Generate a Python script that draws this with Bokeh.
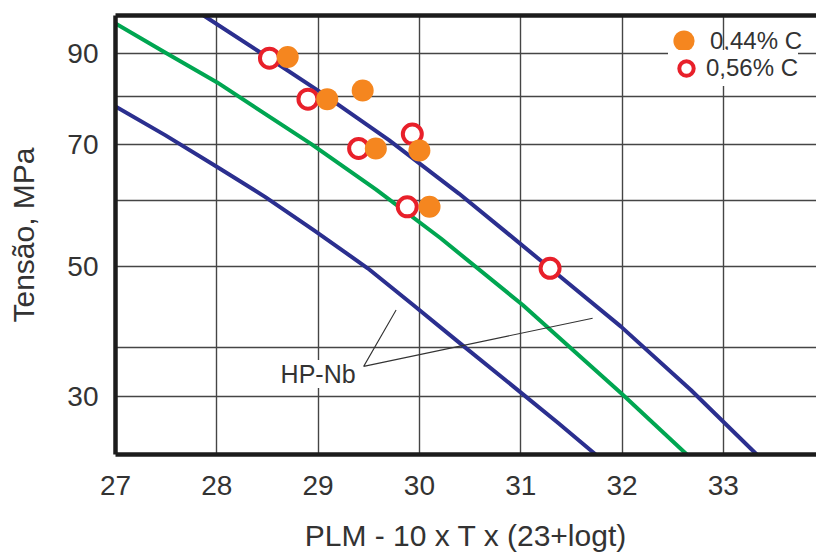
from bokeh.plotting import figure
from bokeh.models import Range1d, FixedTicker, LinearAxis, Legend, LegendItem, Label
from bokeh.embed import file_html
from bokeh.resources import INLINE

# ---- data ----
x_ticks = [27, 28, 29, 30, 31, 32, 33]
y_grid = [35, 40, 50, 60, 70, 80, 90]
y_tick_values = [35, 50, 70, 90]
y_tick_labels = ["30", "50", "70", "90"]

c044_x = [28.70, 29.09, 29.44, 29.57, 30.00, 30.10]
c044_y = [89.2, 79.4, 81.3, 69.3, 68.9, 59.0]
c056_x = [28.52, 28.90, 29.40, 29.93, 29.88, 31.29]
c056_y = [88.9, 79.4, 69.3, 72.1, 59.0, 49.8]

upper_x = [27.87, 28.43, 29.00, 29.70, 30.39, 30.85, 31.29, 31.99, 32.68, 33.33]
upper_y = [100.0, 90.3, 81.3, 70.9, 61.2, 55.1, 49.8, 42.4, 35.6, 29.8]
mid_x = [27.00, 27.49, 28.00, 28.93, 29.57, 30.21, 31.02, 31.54, 32.00, 32.64]
mid_y = [97.8, 90.3, 83.2, 70.2, 61.9, 54.1, 45.0, 39.5, 35.2, 29.8]
lower_x = [27.00, 27.49, 28.00, 28.48, 28.96, 29.49, 29.93, 30.39, 31.02, 31.37, 31.74]
lower_y = [77.8, 71.9, 65.9, 60.6, 55.3, 49.8, 45.1, 40.6, 35.2, 32.5, 29.8]

leader_x = [29.77, 29.45, 31.71]
leader_y = [44.4, 38.0, 43.4]
hp_x, hp_y, hp_text = 29.0, 37.2, "HP-Nb"

series_labels = ["0,44% C", "0,56% C"]
x_title = "PLM - 10 x T x (23+logt)"
y_title = "Tensão, MPa"

# ---- style ----
FONT = "Liberation Sans"
TXT = "#333333"
NAVY = "#2b2f8f"
GREEN = "#00a651"
ORANGE = "#f5861f"
RED = "#e8202a"
GRID = "#454545"
BORDER = "#1c1c1c"

p = figure(width=816, height=554, x_range=Range1d(27, 33.92), y_range=Range1d(29.8, 100.0),
           y_axis_type="log", output_backend="svg", toolbar_location=None,
           min_border_left=115, min_border_right=0, min_border_top=15, min_border_bottom=100)
p.outline_line_color = None
p.background_fill_color = "white"
p.border_fill_color = "white"

# grid
p.xgrid.ticker = FixedTicker(ticks=x_ticks)
p.ygrid.ticker = FixedTicker(ticks=y_grid)
for g in (p.xgrid, p.ygrid):
    g.grid_line_color = GRID
    g.grid_line_width = 1.4

# axes
for ax in (p.xaxis, p.yaxis):
    ax.axis_line_color = BORDER
    ax.axis_line_width = 4.5
    ax.major_tick_out = 0
    ax.major_tick_in = 0
    ax.minor_tick_out = 0
    ax.minor_tick_in = 0
    ax.major_label_text_font = FONT
    ax.major_label_text_font_size = "28px"
    ax.major_label_text_color = TXT
    ax.axis_label_text_font = FONT
    ax.axis_label_text_font_size = "30px"
    ax.axis_label_text_font_style = "normal"
    ax.axis_label_text_color = TXT

p.xaxis.ticker = FixedTicker(ticks=x_ticks)
p.xaxis.axis_label = x_title
p.xaxis.major_label_standoff = 21
p.xaxis.axis_label_standoff = 21

p.yaxis.ticker = FixedTicker(ticks=y_tick_values)
overrides = {}
for v, lab in zip(y_tick_values, y_tick_labels):
    overrides[v] = lab
    overrides[str(v)] = lab
p.yaxis.major_label_overrides = overrides
p.yaxis.axis_label = y_title
p.yaxis.major_label_standoff = 17
p.yaxis.axis_label_standoff = 24

top = LinearAxis(ticker=FixedTicker(ticks=[]), axis_line_color=BORDER, axis_line_width=4.5,
                 major_tick_out=0, major_tick_in=0, minor_tick_out=0, minor_tick_in=0,
                 major_label_standoff=0, major_label_text_font_size="0px")
p.add_layout(top, "above")

# curves
p.line(lower_x, lower_y, line_color=NAVY, line_width=4, line_join="round")
p.line(mid_x, mid_y, line_color=GREEN, line_width=4, line_join="round")
p.line(upper_x, upper_y, line_color=NAVY, line_width=4, line_join="round")

# leader lines + label
p.line(leader_x, leader_y, line_color="#333333", line_width=1.1)
p.add_layout(Label(x=hp_x, y=hp_y, text=hp_text, text_align="center", text_baseline="middle",
                   text_font=FONT, text_font_size="25px", text_color=TXT,
                   background_fill_color="white"))

# points
r056 = p.scatter(c056_x, c056_y, size=19, marker="circle", fill_color="white",
                 line_color=RED, line_width=4)
r044 = p.scatter(c044_x, c044_y, size=22, marker="circle", fill_color=ORANGE, line_color=None)

# legends (two, so each marker can have its own size)
common = dict(border_line_color=None, padding=0, margin=0, spacing=0,
              label_text_font=FONT, label_text_font_size="24px", label_text_color=TXT)
legA = Legend(items=[LegendItem(label=series_labels[0], renderers=[r044])],
              location=(542, 387), glyph_width=53, glyph_height=53, label_standoff=0,
              background_fill_alpha=0, **common)
legB = Legend(items=[LegendItem(label=series_labels[1], renderers=[r056])],
              location=(553, 368), glyph_width=36, glyph_height=36, label_standoff=2,
              background_fill_color="white", background_fill_alpha=1, **common)
p.add_layout(legA)
p.add_layout(legB)

open("out.html", "w").write(file_html(p, INLINE))
